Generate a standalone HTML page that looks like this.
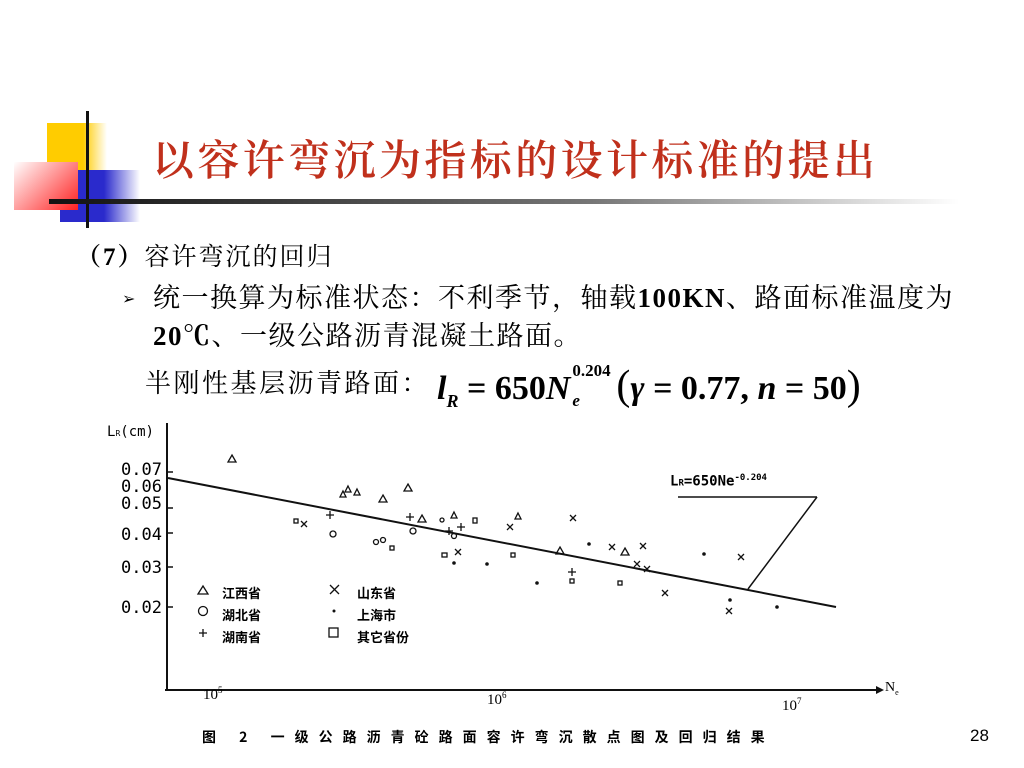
<!DOCTYPE html>
<html><head><meta charset="utf-8"><style>
body{margin:0;width:1024px;height:768px;background:#fff;overflow:hidden;position:relative;font-family:"Liberation Serif","Noto Serif CJK SC",serif}
.a{position:absolute;white-space:nowrap}
</style></head><body>
<div class="a" style="left:47px;top:123px;width:60px;height:60px;background:linear-gradient(90deg,#ffcc00 60%,#fff)"></div>
<div class="a" style="left:60px;top:170px;width:80px;height:52px;background:linear-gradient(90deg,#2a2acc 55%,#fff)"></div>
<div class="a" style="left:14px;top:162px;width:64px;height:48px;background:linear-gradient(135deg,#fff 0%,#ff2020 100%)"></div>
<div class="a" style="left:86px;top:111px;width:3px;height:117px;background:#111"></div>
<div class="a" style="left:49px;top:199px;width:910px;height:5px;background:linear-gradient(90deg,#111,#777 60%,#fff)"></div>
<div class="a" style="left:152px;top:128px;font-size:42px;letter-spacing:3.4px;color:#c0301c;font-weight:600;font-family:'Noto Serif CJK SC',serif">以容许弯沉为指标的设计标准的提出</div>
<div class="a" style="left:76px;top:237px;font-size:25px;letter-spacing:2px;font-family:'Liberation Serif','Noto Serif CJK SC',serif"><b>（7）</b>容许弯沉的回归</div>
<div class="a" style="left:122px;top:289px;font-size:16px">➢</div>
<div class="a" style="left:153px;top:279px;font-size:27px;letter-spacing:1.5px;line-height:38px;font-family:'Liberation Serif','Noto Serif CJK SC',serif">统一换算为标准状态：不利季节，轴载<b>100KN</b>、路面标准温度为<br><b>20℃</b>、一级公路沥青混凝土路面。</div>
<div class="a" style="left:145px;top:363px;font-size:26px;letter-spacing:2.5px;font-family:'Noto Serif CJK SC',serif">半刚性基层沥青路面：</div>
<div class="a" style="left:437px;top:362px;font-size:34px;font-weight:bold"><i>l</i><sub style="font-size:18px"><i>R</i></sub> = 650<i>N</i><span style="display:inline-block;position:relative;width:46px;height:10px"><span style="position:absolute;left:2px;top:-28px;font-size:17px">0.204</span><span style="position:absolute;left:2px;top:2px;font-size:17px"><i>e</i></span></span><span style="font-size:42px;font-weight:normal">(</span><i>γ</i> = 0.77, <i>n</i> = 50<span style="font-size:42px;font-weight:normal">)</span></div>
<svg class="a" style="left:0;top:0" width="1024" height="768">
<g stroke="#111" fill="none" stroke-width="2">
<line x1="167" y1="423" x2="167" y2="690"/>
<line x1="165" y1="690" x2="876" y2="690"/>
<line x1="168" y1="478" x2="836" y2="607"/>
<line x1="678" y1="497" x2="817" y2="497" stroke-width="1.5"/>
<line x1="817" y1="497" x2="748" y2="589" stroke-width="1.5"/>
<g stroke-width="1.5"><line x1="167" y1="472" x2="173" y2="472"/><line x1="167" y1="508" x2="173" y2="508"/><line x1="167" y1="533" x2="173" y2="533"/><line x1="167" y1="567" x2="173" y2="567"/><line x1="167" y1="607" x2="173" y2="607"/></g>
</g>
<polygon points="876,686 884,690 876,694" fill="#111"/>
<g fill="none" stroke="#111" stroke-width="1.3">
<g><path d="M232,455 l4,7 h-8z"/><path d="M343,491 l3,6 h-6z"/><path d="M348,486 l3,6 h-6z"/><path d="M357,489 l3,6 h-6z"/><path d="M383,495 l4,7 h-8z"/><path d="M408,484 l4,7 h-8z"/><path d="M422,515 l4,7 h-8z"/><path d="M454,512 l3,6 h-6z"/><path d="M518,513 l3,6 h-6z"/><path d="M560,547 l4,7 h-8z"/><path d="M625,548 l4,7 h-8z"/><path d="M203,586 l5,8 h-10z"/></g>
<circle cx="333" cy="534" r="3"/><circle cx="413" cy="531" r="3"/><circle cx="442" cy="520" r="2"/><circle cx="454" cy="536" r="2.5"/><circle cx="376" cy="542" r="2.5"/><circle cx="383" cy="540" r="2.5"/><circle cx="203" cy="611" r="4.5"/>
<path d="M330,511v8M326,515h8 M410,513v8M406,517h8 M449,527v8M445,531h8 M461,523v8M457,527h8 M572,568v8M568,572h8 M203,629v8M199,633h8"/>
<path d="M301,521l6,6M307,521l-6,6 M455,549l6,6M461,549l-6,6 M507,524l6,6M513,524l-6,6 M570,515l6,6M576,515l-6,6 M609,544l6,6M615,544l-6,6 M640,543l6,6M646,543l-6,6 M634,561l6,6M640,561l-6,6 M644,566l6,6M650,566l-6,6 M662,590l6,6M668,590l-6,6 M738,554l6,6M744,554l-6,6 M726,608l6,6M732,608l-6,6 M330,585l9,9M339,585l-9,9"/>
<rect x="294" y="519" width="4" height="4"/><rect x="390" y="546" width="4" height="4"/><rect x="442" y="553" width="5" height="4"/><rect x="473" y="518" width="4" height="5"/><rect x="511" y="553" width="4" height="4"/><rect x="570" y="579" width="4" height="4"/><rect x="618" y="581" width="4" height="4"/><rect x="329" y="628" width="9" height="9"/>
</g>
<g fill="#111"><circle cx="454" cy="563" r="1.8"/><circle cx="487" cy="564" r="1.8"/><circle cx="537" cy="583" r="1.8"/><circle cx="589" cy="544" r="1.8"/><circle cx="704" cy="554" r="1.8"/><circle cx="777" cy="607" r="1.8"/><circle cx="730" cy="600" r="1.8"/><circle cx="334" cy="611" r="1.5"/></g>
</svg>
<div class="a" style="left:107px;top:424px;font-size:14px;font-family:'DejaVu Sans Mono',monospace">L<span style="font-size:8px">R</span>(cm)</div>
<div class="a" style="left:121px;top:462px;font-size:17px;line-height:17px;font-family:'DejaVu Sans Mono',monospace">0.07<br>0.06<br>0.05</div>
<div class="a" style="left:121px;top:525px;font-size:17px;font-family:'DejaVu Sans Mono',monospace">0.04</div>
<div class="a" style="left:121px;top:558px;font-size:17px;font-family:'DejaVu Sans Mono',monospace">0.03</div>
<div class="a" style="left:121px;top:598px;font-size:17px;font-family:'DejaVu Sans Mono',monospace">0.02</div>
<div class="a" style="left:222px;top:582px;font-size:13px;line-height:22px;font-family:'Noto Sans CJK SC',sans-serif;font-weight:bold">江西省<br>湖北省<br>湖南省</div>
<div class="a" style="left:357px;top:582px;font-size:13px;line-height:22px;font-family:'Noto Sans CJK SC',sans-serif;font-weight:bold">山东省<br>上海市<br>其它省份</div>
<div class="a" style="left:670px;top:473px;font-size:14px;font-weight:bold;font-family:'DejaVu Sans Mono',monospace">L<span style="font-size:9px">R</span>=650Ne<sup style="font-size:9px">-0.204</sup></div>
<div class="a" style="left:203px;top:685px;font-size:15px">10<sup style="font-size:9px">5</sup></div>
<div class="a" style="left:487px;top:690px;font-size:15px">10<sup style="font-size:9px">6</sup></div>
<div class="a" style="left:782px;top:696px;font-size:15px">10<sup style="font-size:9px">7</sup></div>
<div class="a" style="left:885px;top:680px;font-size:14px">N<sub style="font-size:8px">e</sub></div>
<div class="a" style="left:202px;top:727px;font-size:14px;font-weight:bold;letter-spacing:10px;font-family:'Noto Sans CJK SC',sans-serif">图 2 一级公路沥青砼路面容许弯沉散点图及回归结果</div>
<div class="a" style="left:970px;top:726px;font-size:17px;font-family:'Liberation Sans',sans-serif">28</div>
</body></html>
